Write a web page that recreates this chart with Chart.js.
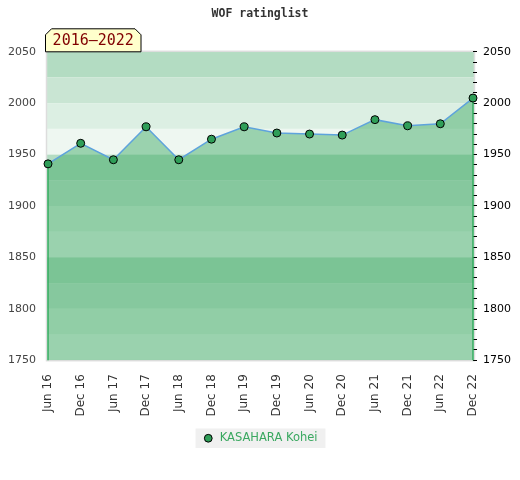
<!DOCTYPE html>
<html>
<head>
<meta charset="utf-8">
<script src="https://cdn.jsdelivr.net/npm/chart.js@4/dist/chart.umd.min.js"></script>
<style>
html, body { margin: 0; padding: 0; background: #fff; }
</style>
</head>
<body>
<canvas id="ratingChart" width="520" height="480"></canvas>
<script>
// Data
const periodLabel = '2016–2022';
const playerName = 'KASAHARA Kohei';
const labels = ['Jun 16', 'Dec 16', 'Jun 17', 'Dec 17', 'Jun 18', 'Dec 18', 'Jun 19',
                'Dec 19', 'Jun 20', 'Dec 20', 'Jun 21', 'Dec 21', 'Jun 22', 'Dec 22'];
const ratings = [1941, 1961, 1945, 1977, 1945, 1965, 1977, 1971, 1970, 1969, 1984, 1978, 1980, 2005];
const yMin = 1750;
const yMax = 2050;

// Colors
const bandColors = ['#b3dcc2', '#c9e5d3', '#dcefe3', '#eef7f1'];
const fillColor = 'rgba(61, 169, 99, 0.475)';
const lineColor = '#5ea3dc';
const markerColor = '#2f9e58';
const edgeColor = '#2fae5e';
const legendText = '#3aa860';

Chart.defaults.font.family = "'DejaVu Sans', sans-serif";
Chart.defaults.font.size = 12;

// horizontal background bands, 25 rating points each
const bandPlugin = {
    id: 'bands',
    beforeDraw(chart, args, opts) {
        const { ctx, chartArea: a, scales: { y } } = chart;
        ctx.save();
        let i = 0;
        for (let v = y.max; v > y.min; v -= opts.step) {
            const top = y.getPixelForValue(v);
            const bottom = y.getPixelForValue(v - opts.step);
            ctx.fillStyle = opts.colors[i % opts.colors.length];
            ctx.fillRect(a.left - 1, top, a.right - a.left + 2, bottom - top);
            i++;
        }
        ctx.strokeStyle = opts.borderColor;
        ctx.lineWidth = 1.5;
        ctx.strokeRect(a.left - 1.5, a.top - 0.5, a.right - a.left + 3, a.bottom - a.top + 1);

        // grey box behind the legend item
        const box = chart.legend && chart.legend.legendHitBoxes && chart.legend.legendHitBoxes[0];
        if (box) {
            ctx.fillStyle = opts.legendBg;
            ctx.fillRect(box.left - 7, box.top - 4, box.width + 15, box.height + 8);
        }
        ctx.restore();
    }
};

// vertical edges of the filled area, under the line and markers
const edgePlugin = {
    id: 'edges',
    beforeDatasetsDraw(chart, args, opts) {
        const { ctx, chartArea: a } = chart;
        const pts = chart.getDatasetMeta(0).data;
        if (!pts.length) return;
        ctx.save();
        ctx.strokeStyle = opts.color;
        ctx.lineWidth = 1.5;
        [pts[0], pts[pts.length - 1]].forEach(p => {
            ctx.beginPath();
            ctx.moveTo(p.x, p.y);
            ctx.lineTo(p.x, a.bottom);
            ctx.stroke();
        });
        ctx.restore();
    }
};

// yellow period tag sitting on the top-left of the plot
const tagPlugin = {
    id: 'tag',
    afterDraw(chart, args, opts) {
        const { ctx, chartArea: a } = chart;
        const x0 = a.left - 2.5, x1 = a.left + opts.width;
        const y0 = a.top - opts.height, y1 = a.top;
        const c = opts.corner;
        ctx.save();
        ctx.beginPath();
        ctx.moveTo(x0, y1);
        ctx.lineTo(x0, y0 + c);
        ctx.lineTo(x0 + c, y0);
        ctx.lineTo(x1 - c, y0);
        ctx.lineTo(x1, y0 + c);
        ctx.lineTo(x1, y1);
        ctx.closePath();
        ctx.fillStyle = '#ffffcc';
        ctx.fill();
        ctx.strokeStyle = '#000';
        ctx.lineWidth = 1;
        ctx.stroke();
        ctx.fillStyle = '#800000';
        ctx.font = "15px 'DejaVu Sans Mono', monospace";
        ctx.textAlign = 'center';
        ctx.textBaseline = 'middle';
        ctx.fillText(opts.text, (x0 + x1) / 2, (y0 + y1) / 2 + 1);
        ctx.restore();
    }
};

new Chart(document.getElementById('ratingChart'), {
    type: 'line',
    data: {
        labels: labels,
        datasets: [{
            label: playerName,
            data: ratings,
            borderColor: lineColor,
            borderWidth: 1.5,
            backgroundColor: fillColor,
            fill: 'start',
            tension: 0,
            pointRadius: 4,
            pointBackgroundColor: markerColor,
            pointBorderColor: '#000',
            pointBorderWidth: 1
        }]
    },
    options: {
        responsive: false,
        animation: false,
        layout: { padding: { bottom: 26 } },
        scales: {
            x: {
                offset: false,
                grid: { display: false },
                border: { display: false },
                ticks: { color: '#333', minRotation: 90, maxRotation: 90, autoSkip: false, padding: 6 }
            },
            y: {
                position: 'left',
                min: yMin,
                max: yMax,
                grid: { display: false, drawTicks: false },
                border: { display: false },
                ticks: { stepSize: 50, color: '#444', padding: 12, font: { size: 11 }, callback: v => String(v) },
                afterFit(scale) { scale.width = 48; }
            },
            y2: {
                position: 'right',
                min: yMin,
                max: yMax,
                grid: { drawOnChartArea: false, color: '#000', tickLength: 4 },
                border: { display: false },
                ticks: {
                    stepSize: 10,
                    autoSkip: false,
                    color: '#000',
                    padding: 6,
                    font: { size: 11 },
                    callback: v => (v % 50 === 0 ? String(v) : '')
                },
                afterFit(scale) { scale.width = 47; }
            }
        },
        plugins: {
            title: {
                display: true,
                text: 'WOF ratinglist',
                color: '#333',
                font: { family: "'DejaVu Sans Mono', monospace", size: 11.5, weight: 'bold' },
                padding: { top: 7, bottom: 31 }
            },
            legend: {
                position: 'bottom',
                labels: {
                    usePointStyle: true,
                    boxWidth: 12,
                    boxHeight: 5.5,
                    color: legendText,
                    font: { size: 11.5 },
                    padding: 10
                }
            },
            tooltip: { enabled: false },
            bands: { step: 25, colors: bandColors, borderColor: '#dddddd', legendBg: '#f0f0f0' },
            edges: { color: edgeColor },
            tag: { text: periodLabel, width: 93, height: 23, corner: 6 }
        }
    },
    plugins: [bandPlugin, edgePlugin, tagPlugin]
});
</script>
</body>
</html>
